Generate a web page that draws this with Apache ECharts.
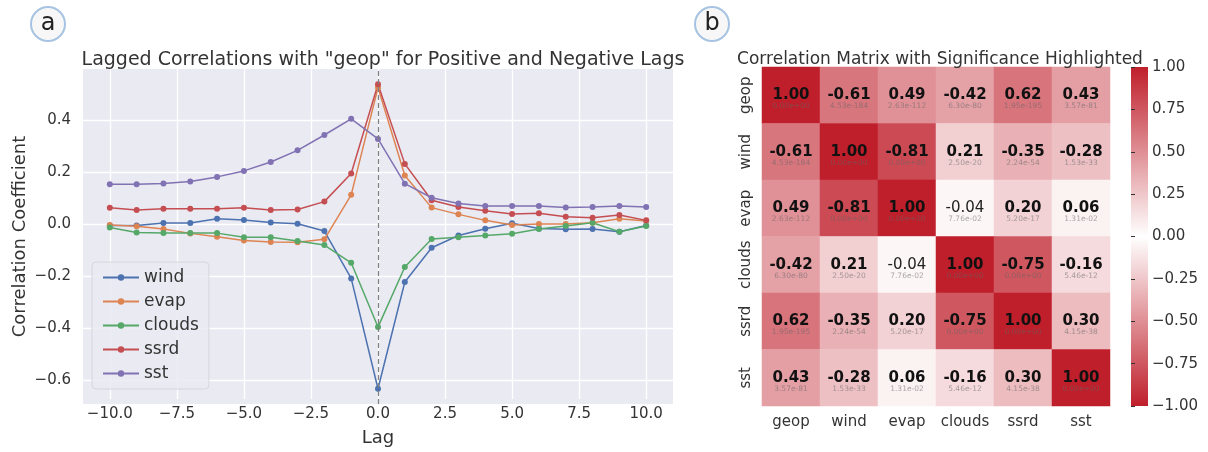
<!DOCTYPE html>
<html>
<head>
<meta charset="utf-8">
<script src="https://cdn.jsdelivr.net/npm/echarts@6/dist/echarts.min.js"></script>
<style>
  html, body { margin: 0; padding: 0; background: #fff; }
  #chart { width: 1208px; height: 452px; }
</style>
</head>
<body>
<div id="chart"></div>
<script>
// ---- panel a: lagged correlations with geop ----
const lags = [-10, -9, -8, -7, -6, -5, -4, -3, -2, -1, 0, 1, 2, 3, 4, 5, 6, 7, 8, 9, 10];
const wind = [-0.006, -0.006, 0.004, 0.004, 0.020, 0.015, 0.006, 0.001, -0.027, -0.209, -0.633, -0.223, -0.091, -0.044, -0.018, 0.003, -0.017, -0.020, -0.019, -0.030, -0.006];
const evap = [-0.004, -0.009, -0.019, -0.036, -0.049, -0.063, -0.069, -0.070, -0.059, 0.112, 0.524, 0.186, 0.063, 0.037, 0.014, -0.004, 0.000, 0.000, 0.005, 0.020, 0.012];
const clouds = [-0.013, -0.033, -0.035, -0.035, -0.035, -0.051, -0.051, -0.065, -0.081, -0.149, -0.396, -0.165, -0.058, -0.051, -0.044, -0.037, -0.019, -0.008, 0.005, -0.030, -0.008];
const ssrd = [0.062, 0.054, 0.059, 0.059, 0.059, 0.062, 0.054, 0.056, 0.086, 0.194, 0.537, 0.231, 0.091, 0.065, 0.051, 0.038, 0.041, 0.028, 0.024, 0.035, 0.014];
const sst = [0.153, 0.153, 0.156, 0.163, 0.181, 0.204, 0.238, 0.283, 0.342, 0.404, 0.327, 0.155, 0.101, 0.079, 0.069, 0.069, 0.069, 0.063, 0.065, 0.069, 0.065];
const lineNames = ['wind', 'evap', 'clouds', 'ssrd', 'sst'];
const lineColors = ['#4C72B0', '#DD8452', '#55A868', '#C44E52', '#8172B3'];

// ---- panel b: correlation matrix ----
const vars = ['geop', 'wind', 'evap', 'clouds', 'ssrd', 'sst'];
const corr = [
  [1.00, -0.61, 0.49, -0.42, 0.62, 0.43],
  [-0.61, 1.00, -0.81, 0.21, -0.35, -0.28],
  [0.49, -0.81, 1.00, -0.04, 0.20, 0.06],
  [-0.42, 0.21, -0.04, 1.00, -0.75, -0.16],
  [0.62, -0.35, 0.20, -0.75, 1.00, 0.30],
  [0.43, -0.28, 0.06, -0.16, 0.30, 1.00]
];
const pvals = [
  ['0.00e+00', '4.53e-184', '2.63e-112', '6.30e-80', '1.95e-195', '3.57e-81'],
  ['4.53e-184', '0.00e+00', '0.00e+00', '2.50e-20', '2.24e-54', '1.53e-33'],
  ['2.63e-112', '0.00e+00', '0.00e+00', '7.76e-02', '5.20e-17', '1.31e-02'],
  ['6.30e-80', '2.50e-20', '7.76e-02', '0.00e+00', '0.00e+00', '5.46e-12'],
  ['1.95e-195', '2.24e-54', '5.20e-17', '0.00e+00', '0.00e+00', '4.15e-38'],
  ['3.57e-81', '1.53e-33', '1.31e-02', '5.46e-12', '4.15e-38', '0.00e+00']
];
const lagTicks = { min: -10, max: 10, step: 2.5 };
const coefTicks = { min: -0.6, max: 0.4, step: 0.2 };
const cbarTicks = { min: -1, max: 1, step: 0.25 };

const FONT = 'DejaVu Sans';
const TXT = '#333333';
const DARK = '#bf1f2b';

// plot area of panel a (matplotlib-style 5% margins)
const P = { left: 83, top: 69, width: 590, height: 335 };
const xExt = [-11, 11];
const yExt = [-0.6915, 0.5955];
const xUnit = P.width / (xExt[1] - xExt[0]);
const yUnit = P.height / (yExt[1] - yExt[0]);

const minus = s => s.replace('-', '\u2212');

const chart = echarts.init(document.getElementById('chart'));

const heatData = [];
corr.forEach((row, i) => row.forEach((v, j) => heatData.push([j, i, v])));

const option = {
  animation: false,
  textStyle: { fontFamily: FONT },
  title: [
    { text: 'Lagged Correlations with "geop" for Positive and Negative Lags', left: 378, top: 46, textAlign: 'center',
      textStyle: { fontFamily: FONT, fontSize: 19, fontWeight: 'normal', color: TXT } },
    { text: 'Correlation Matrix with Significance Highlighted', left: 935, top: 46, textAlign: 'center',
      textStyle: { fontFamily: FONT, fontSize: 17, fontWeight: 'normal', color: TXT } }
  ],
  grid: [
    // 0: data area
    { left: P.left, top: P.top, width: P.width, height: P.height, show: true, backgroundColor: '#EAEAF2', borderWidth: 0 },
    // 1: x ticks (-10..10)
    { left: P.left + (lagTicks.min - xExt[0]) * xUnit, top: P.top, width: (lagTicks.max - lagTicks.min) * xUnit, height: P.height },
    // 2: y ticks (-0.6..0.4)
    { left: P.left, top: P.top + (yExt[1] - coefTicks.max) * yUnit, width: P.width, height: (coefTicks.max - coefTicks.min) * yUnit },
    // 3: heatmap
    { left: 762, top: 67, width: 348, height: 339 },
    // 4: colorbar
    { left: 1131, top: 67, width: 17, height: 339, show: true, borderWidth: 0,
      backgroundColor: { type: 'linear', x: 0, y: 0, x2: 0, y2: 1,
        colorStops: [{ offset: 0, color: DARK }, { offset: 0.5, color: '#ffffff' }, { offset: 1, color: DARK }] } }
  ],
  xAxis: [
    { gridIndex: 0, type: 'value', min: xExt[0], max: xExt[1], show: false },
    { gridIndex: 1, type: 'value', min: lagTicks.min, max: lagTicks.max, interval: lagTicks.step, z: 1,
      name: 'Lag', nameLocation: 'middle', nameGap: 30, nameTextStyle: { fontFamily: FONT, fontSize: 18, color: TXT },
      axisLine: { show: false }, axisTick: { show: false },
      axisLabel: { fontFamily: FONT, fontSize: 15, color: TXT, margin: 8, formatter: v => minus(v.toFixed(1)) },
      splitLine: { show: true, lineStyle: { color: '#ffffff', width: 1.3 } } },
    { gridIndex: 2, type: 'value', min: xExt[0], max: xExt[1], show: false },
    { gridIndex: 3, type: 'category', data: vars, axisLine: { show: false }, axisTick: { show: false },
      axisLabel: { interval: 0, fontFamily: FONT, fontSize: 15, color: TXT, margin: 9 } },
    { gridIndex: 4, type: 'value', show: false }
  ],
  yAxis: [
    { gridIndex: 0, type: 'value', min: yExt[0], max: yExt[1],
      name: 'Correlation Coefficient', nameLocation: 'middle', nameGap: 54,
      nameTextStyle: { fontFamily: FONT, fontSize: 18, color: TXT },
      axisLine: { show: false }, axisTick: { show: false }, axisLabel: { show: false }, splitLine: { show: false } },
    { gridIndex: 1, type: 'value', min: yExt[0], max: yExt[1], show: false },
    { gridIndex: 2, type: 'value', min: coefTicks.min, max: coefTicks.max, interval: coefTicks.step, z: 1,
      axisLine: { show: false }, axisTick: { show: false },
      axisLabel: { fontFamily: FONT, fontSize: 15, color: TXT, margin: 12, formatter: v => minus(v.toFixed(1)) },
      splitLine: { show: true, lineStyle: { color: '#ffffff', width: 1.3 } } },
    { gridIndex: 3, type: 'category', data: vars, inverse: true, axisLine: { show: false }, axisTick: { show: false },
      axisLabel: { interval: 0, fontFamily: FONT, fontSize: 15, color: TXT, rotate: 90, margin: 8 } },
    { gridIndex: 4, type: 'value', position: 'right', min: cbarTicks.min, max: cbarTicks.max, interval: cbarTicks.step,
      axisLine: { show: false }, splitLine: { show: false },
      axisTick: { show: true, length: 4, lineStyle: { color: TXT } },
      axisLabel: { fontFamily: FONT, fontSize: 15, color: TXT, margin: 4, formatter: v => minus(v.toFixed(2)) } }
  ],
  legend: {
    orient: 'vertical', left: 92, top: 262, data: lineNames,
    itemWidth: 36, itemHeight: 8, itemGap: 7,
    padding: [7, 10, 7, 10],
    backgroundColor: 'rgba(234,234,242,0.85)', borderColor: '#d6d6dc', borderWidth: 1, borderRadius: 4,
    textStyle: { fontFamily: FONT, fontSize: 17, color: TXT }
  },
  visualMap: {
    type: 'continuous', show: false, min: -1, max: 1, dimension: 2, seriesIndex: 5,
    inRange: { color: [DARK, '#ffffff', DARK] }
  },
  graphic: [
    { type: 'circle', shape: { cx: 48, cy: 24, r: 17 }, style: { fill: '#f7f7f7', stroke: '#a8c3e2', lineWidth: 2 } },
    { type: 'text', x: 48, y: 24, style: { text: 'a', fontFamily: FONT, fontSize: 24, fill: '#222', align: 'center', verticalAlign: 'middle' } },
    { type: 'circle', shape: { cx: 712, cy: 24, r: 17 }, style: { fill: '#f7f7f7', stroke: '#a8c3e2', lineWidth: 2 } },
    { type: 'text', x: 712, y: 24, style: { text: 'b', fontFamily: FONT, fontSize: 24, fill: '#222', align: 'center', verticalAlign: 'middle' } }
  ],
  series: []
};

[wind, evap, clouds, ssrd, sst].forEach((vals, k) => {
  const s = {
    name: lineNames[k], type: 'line', xAxisIndex: 0, yAxisIndex: 0,
    data: lags.map((l, i) => [l, vals[i]]),
    symbol: 'circle', symbolSize: 6,
    itemStyle: { color: lineColors[k] },
    lineStyle: { color: lineColors[k], width: 1.5 },
    z: 3
  };
  if (k === 0) {
    s.markLine = {
      silent: true, symbol: 'none', label: { show: false },
      lineStyle: { color: '#808080', type: [5, 3], width: 1.2 },
      data: [{ xAxis: 0 }]
    };
  }
  option.series.push(s);
});

option.series.push({
  type: 'heatmap', xAxisIndex: 3, yAxisIndex: 3,
  data: heatData,
  label: {
    show: true,
    formatter: p => {
      const i = p.data[1], j = p.data[0];
      const sig = parseFloat(pvals[i][j]) < 0.05;
      const txt = corr[i][j].toFixed(2);
      return '{' + (sig ? 'b' : 'n') + '|' + txt + '}\n{p|' + pvals[i][j] + '}';
    },
    offset: [0, 4],
    rich: {
      b: { fontFamily: FONT, fontSize: 15, fontWeight: 'bold', color: '#111', lineHeight: 14 },
      n: { fontFamily: FONT, fontSize: 15, fontWeight: 'normal', color: '#222', lineHeight: 14 },
      p: { fontFamily: FONT, fontSize: 7.5, color: 'rgba(100,100,100,0.55)', lineHeight: 8 }
    }
  }
});

chart.setOption(option);
</script>
</body>
</html>
